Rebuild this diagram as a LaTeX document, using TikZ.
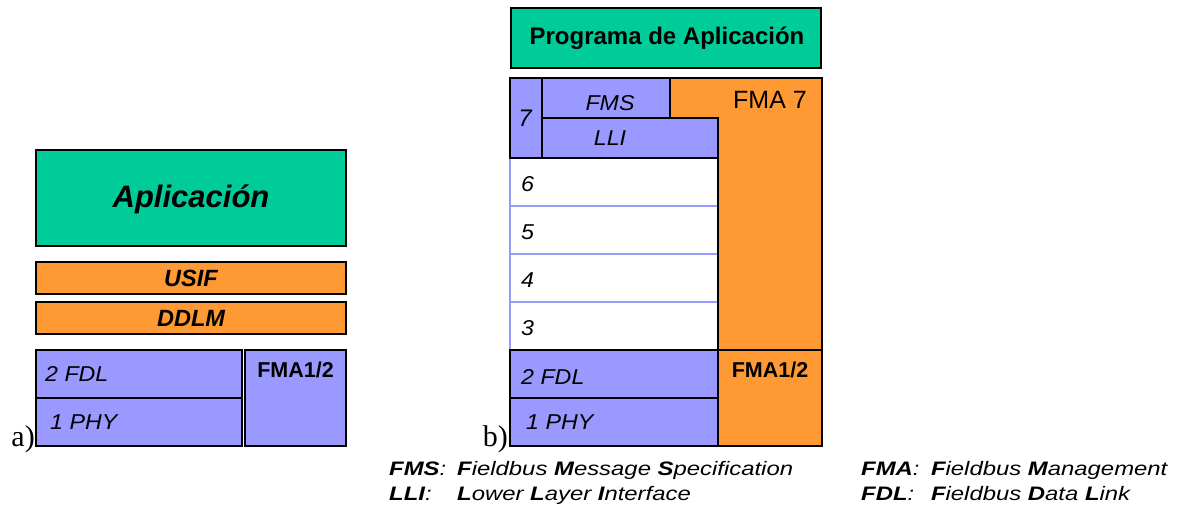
\documentclass[tikz,border=0pt]{standalone}
\usepackage{fontspec}
\usepackage{graphicx}
\setmainfont{Liberation Sans}
\newfontfamily\timesfont{Liberation Serif}
\definecolor{appgreen}{HTML}{00CC99}
\definecolor{mgmtorange}{HTML}{FF9933}
\definecolor{layerblue}{HTML}{9999FF}

% rectangle node from its two corners: name, style, x1, y1, x2, y2
\newcommand\cell[6]{%
  \node[#2, minimum width={(#5-#3)*1pt}, minimum height={(#6-#4)*1pt}]
    (#1) at ({(#3+#5)/2},{(#4+#6)/2}) {};}
\newcommand\bl[1]{\textbf{#1}}
% slightly widened italic labels
\newcommand\widelbl[1]{\scalebox{1.08}[1]{#1}}
% legend lines are set wide
\newcommand\widekey[1]{\scalebox{1.225}[1]{#1}}

\begin{document}
\begin{tikzpicture}[x=1pt,y=-1pt,
  frame/.style={draw=black, line width=1.6pt, inner sep=0pt, outer sep=0pt},
  appbox/.style={frame, fill=appgreen},
  orangebox/.style={frame, fill=mgmtorange},
  bluebox/.style={frame, fill=layerblue},
  openlayer/.style={draw=layerblue, line width=1.6pt, fill=white, inner sep=0pt, outer sep=0pt},
  lbl/.style={inner sep=0pt, font=\fontsize{21.5}{24}\selectfont\itshape},
  bold/.style={inner sep=0pt, font=\fontsize{21.5}{24}\selectfont\bfseries},
  bolditalic/.style={inner sep=0pt, font=\fontsize{23.5}{26}\selectfont\bfseries\itshape},
  tag/.style={inner sep=0pt, font=\fontsize{30}{32}\selectfont\timesfont},
  legend/.style={inner sep=0pt, anchor=base west, font=\fontsize{19.5}{22}\selectfont\itshape}
]
\useasboundingbox (0,0) rectangle (1177,506);

% ---------- a) ----------
\cell{app}{appbox}{36}{150}{346}{246}
\node[inner sep=0pt, font=\fontsize{31}{34}\selectfont\bfseries\itshape] at ([yshift=-1pt]app.center) {Aplicación};
\cell{usif}{orangebox}{36}{262}{346}{294}
\node[bolditalic] at (usif.center) {USIF};
\cell{ddlm}{orangebox}{36}{302}{346}{334}
\node[bolditalic] at (ddlm.center) {DDLM};
\cell{fdla}{bluebox}{36}{350}{242}{398}
\node[lbl, anchor=west] at ([xshift=9pt]fdla.west) {\widelbl{2 FDL}};
\cell{phya}{bluebox}{36}{398}{242}{446}
\node[lbl, anchor=west] at ([xshift=14pt]phya.west) {\widelbl{1 PHY}};
\cell{fmaa}{bluebox}{245}{350}{346}{446}
\node[bold, anchor=north] at ([yshift=-12pt]fmaa.north) {FMA1/2};
\node[tag, anchor=base east] at (35,446) {a)};

% ---------- b) ----------
\cell{prog}{appbox}{511}{8}{821}{68}
\node[inner sep=0pt, font=\fontsize{24}{26}\selectfont\bfseries] at ([xshift=1pt]prog.center) {Programa de Aplicación};

\cell{l6}{openlayer}{510}{158}{718}{206}
\cell{l5}{openlayer}{510}{206}{718}{254}
\cell{l4}{openlayer}{510}{254}{718}{302}
\cell{l3}{openlayer}{510}{302}{718}{350}
\foreach \n in {6,5,4,3}
  \node[lbl, anchor=west] at ([xshift=11pt,yshift=-2pt]l\n.west) {\widelbl{\n}};

% layer-7 management, L-shaped
\filldraw[fill=mgmtorange, draw=black, line width=1.6pt]
  (670,78) -- (822,78) -- (822,350) -- (718,350) -- (718,118) -- (670,118) -- cycle;
\node[inner sep=0pt, font=\fontsize{25}{28}\selectfont] at (770,100) {FMA 7};

\cell{l7}{bluebox}{510}{78}{542}{158}
\node[lbl, font=\fontsize{24}{28}\selectfont\itshape] at ([xshift=-1pt]l7.center) {7};
\cell{fms}{bluebox}{542}{78}{670}{118}
\node[lbl] at ([xshift=4pt,yshift=-5pt]fms.center) {\widelbl{FMS}};
\cell{lli}{bluebox}{542}{118}{718}{158}
\node[lbl] at ([xshift=-20pt]lli.center) {\widelbl{LLI}};

\cell{fdlb}{bluebox}{510}{350}{718}{398}
\node[lbl, anchor=west] at ([xshift=11pt,yshift=-3pt]fdlb.west) {\widelbl{2 FDL}};
\cell{phyb}{bluebox}{510}{398}{718}{446}
\node[lbl, anchor=west] at ([xshift=16pt]phyb.west) {\widelbl{1 PHY}};
\cell{fmab}{orangebox}{718}{350}{822}{446}
\node[bold, anchor=north] at ([yshift=-12pt]fmab.north) {FMA1/2};
\node[tag, anchor=base east] at (508,446) {b)};

% ---------- abbreviations ----------
\node[legend] (kfms) at (389,475)
  {\widekey{\makebox[55.5pt][l]{\bl{FMS}:}\bl{F}ieldbus \bl{M}essage \bl{S}pecification}};
\node[legend] (klli) at (389,500)
  {\widekey{\makebox[55.5pt][l]{\bl{LLI}:}\bl{L}ower \bl{L}ayer \bl{I}nterface}};
\node[legend] (kfma) at (861,475)
  {\widekey{\makebox[57pt][l]{\bl{FMA}:}\bl{F}ieldbus \bl{M}anagement}};
\node[legend] (kfdl) at (861,500)
  {\widekey{\makebox[57pt][l]{\bl{FDL}:}\bl{F}ieldbus \bl{D}ata \bl{L}ink}};
\end{tikzpicture}
\end{document}
